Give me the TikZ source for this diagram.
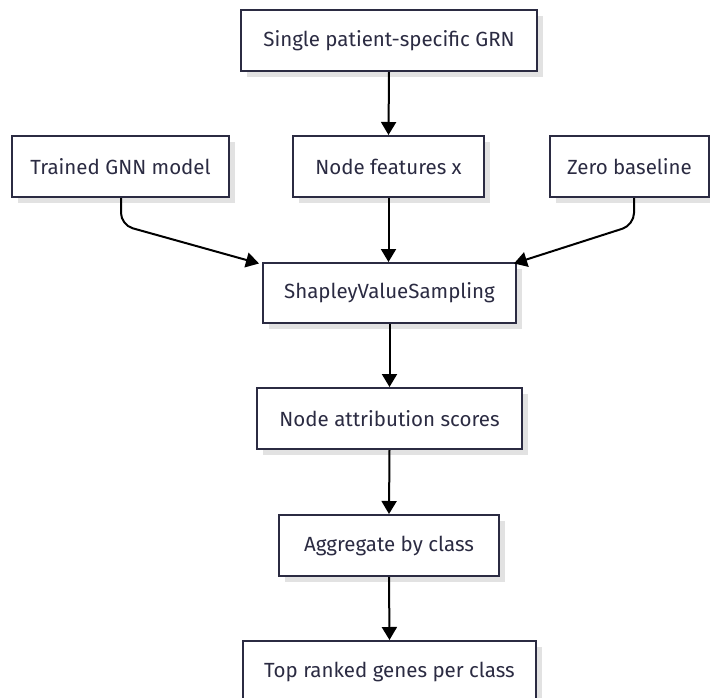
\documentclass[tikz,border=0pt]{standalone}
\usepackage{fontspec}
\setmainfont{Fira Sans}
\usetikzlibrary{arrows.meta,shadows}
\definecolor{ink}{HTML}{2B2B42}
\definecolor{shade}{HTML}{E2E2E2}
\tikzset{
  box/.style={draw=ink, line width=2pt, fill=white, text=ink, inner sep=0pt,
    font=\fontsize{20.5}{24}\selectfont,
    drop shadow={shadow xshift=6pt, shadow yshift=-6pt, fill=shade, draw=none, opacity=1}},
  link/.style={draw=black, line width=2pt, -{Triangle[width=15pt,length=13pt]}, rounded corners=12pt}
}
\begin{document}
\begin{tikzpicture}[x=1pt,y=-1pt]
\useasboundingbox (0,0) rectangle (710,697);
\node[box, minimum width=296pt, minimum height=61pt] (grn) at (389,40.5) {Single patient-specific GRN};
\node[box, minimum width=217pt, minimum height=61pt] (gnn) at (120.5,166.5) {Trained GNN model};
\node[box, minimum width=191pt, minimum height=61pt] (feat) at (388.5,166.5) {Node features x};
\node[box, minimum width=159pt, minimum height=61pt] (zero) at (629.5,166.5) {Zero baseline};
\node[box, minimum width=253pt, minimum height=60pt] (shap) at (389.5,293) {ShapleyValueSampling};
\node[box, minimum width=265pt, minimum height=61pt] (attr) at (389.5,418.5) {Node attribution scores};
\node[box, minimum width=220pt, minimum height=61pt] (agg) at (389,545.5) {Aggregate by class};
\node[box, minimum width=293pt, minimum height=61pt] (top) at (389.5,671.5) {Top ranked genes per class};
\coordinate (gnnbend) at (121,225);
\coordinate (zerobend) at (634,225);
\coordinate (shapL) at (259,263.5);
\coordinate (shapR) at (514,263.5);
\draw[link] (grn.south) -- (feat.north);
\draw[link] (feat.south) -- (feat.south |- shap.north);
\draw[link] (gnn.south -| gnnbend) -- (gnnbend) -- (shapL);
\draw[link] (zero.south -| zerobend) -- (zerobend) -- (shapR);
\draw[link] (shap.south) -- (attr.north);
\draw[link] (attr.south) -- (agg.north);
\draw[link] (agg.south) -- (top.north);
\end{tikzpicture}
\end{document}
